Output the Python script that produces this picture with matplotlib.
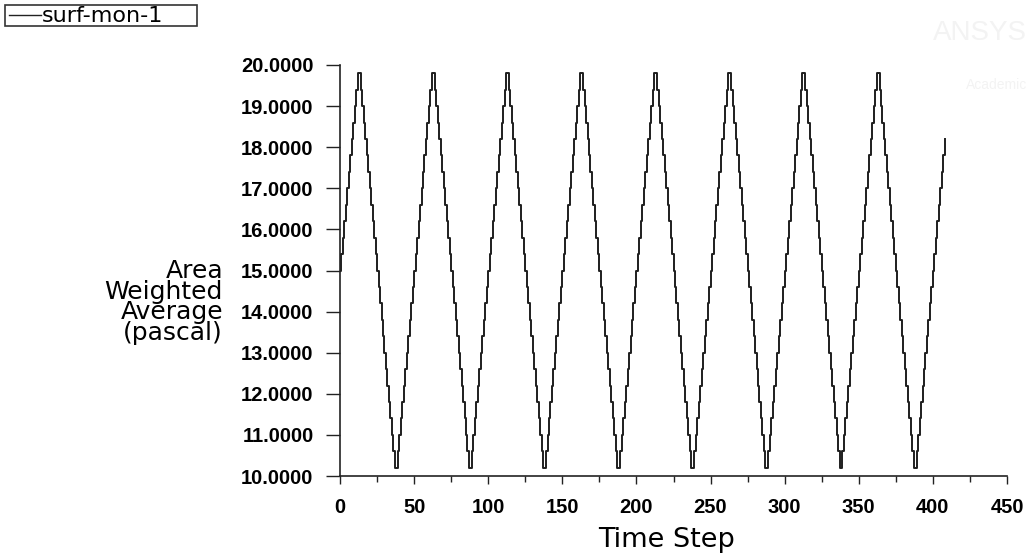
import matplotlib
matplotlib.use("Agg")
import matplotlib.pyplot as plt
from matplotlib.patches import Rectangle
from matplotlib.lines import Line2D

series_name = "surf-mon-1"
x_label = "Time Step"
y_label = "Area\nWeighted\nAverage\n(pascal)"

time_step = list(range(0, 409))
area_weighted_avg = [
    15.0, 15.4, 15.8, 16.2, 16.6, 17.0, 17.4, 17.8, 18.2, 18.6, 19.0, 19.4, 19.8, 19.8, 19.4, 19.0, 18.6, 18.2, 17.8, 17.4, 17.0, 16.6, 16.2, 15.8, 15.4,
    15.0, 14.6, 14.2, 13.8, 13.4, 13.0, 12.6, 12.2, 11.8, 11.4, 11.0, 10.6, 10.2, 10.2, 10.6, 11.0, 11.4, 11.8, 12.2, 12.6, 13.0, 13.4, 13.8, 14.2, 14.6,
    15.0, 15.4, 15.8, 16.2, 16.6, 17.0, 17.4, 17.8, 18.2, 18.6, 19.0, 19.4, 19.8, 19.8, 19.4, 19.0, 18.6, 18.2, 17.8, 17.4, 17.0, 16.6, 16.2, 15.8, 15.4,
    15.0, 14.6, 14.2, 13.8, 13.4, 13.0, 12.6, 12.2, 11.8, 11.4, 11.0, 10.6, 10.2, 10.2, 10.6, 11.0, 11.4, 11.8, 12.2, 12.6, 13.0, 13.4, 13.8, 14.2, 14.6,
    15.0, 15.4, 15.8, 16.2, 16.6, 17.0, 17.4, 17.8, 18.2, 18.6, 19.0, 19.4, 19.8, 19.8, 19.4, 19.0, 18.6, 18.2, 17.8, 17.4, 17.0, 16.6, 16.2, 15.8, 15.4,
    15.0, 14.6, 14.2, 13.8, 13.4, 13.0, 12.6, 12.2, 11.8, 11.4, 11.0, 10.6, 10.2, 10.2, 10.6, 11.0, 11.4, 11.8, 12.2, 12.6, 13.0, 13.4, 13.8, 14.2, 14.6,
    15.0, 15.4, 15.8, 16.2, 16.6, 17.0, 17.4, 17.8, 18.2, 18.6, 19.0, 19.4, 19.8, 19.8, 19.4, 19.0, 18.6, 18.2, 17.8, 17.4, 17.0, 16.6, 16.2, 15.8, 15.4,
    15.0, 14.6, 14.2, 13.8, 13.4, 13.0, 12.6, 12.2, 11.8, 11.4, 11.0, 10.6, 10.2, 10.2, 10.6, 11.0, 11.4, 11.8, 12.2, 12.6, 13.0, 13.4, 13.8, 14.2, 14.6,
    15.0, 15.4, 15.8, 16.2, 16.6, 17.0, 17.4, 17.8, 18.2, 18.6, 19.0, 19.4, 19.8, 19.8, 19.4, 19.0, 18.6, 18.2, 17.8, 17.4, 17.0, 16.6, 16.2, 15.8, 15.4,
    15.0, 14.6, 14.2, 13.8, 13.4, 13.0, 12.6, 12.2, 11.8, 11.4, 11.0, 10.6, 10.2, 10.2, 10.6, 11.0, 11.4, 11.8, 12.2, 12.6, 13.0, 13.4, 13.8, 14.2, 14.6,
    15.0, 15.4, 15.8, 16.2, 16.6, 17.0, 17.4, 17.8, 18.2, 18.6, 19.0, 19.4, 19.8, 19.8, 19.4, 19.0, 18.6, 18.2, 17.8, 17.4, 17.0, 16.6, 16.2, 15.8, 15.4,
    15.0, 14.6, 14.2, 13.8, 13.4, 13.0, 12.6, 12.2, 11.8, 11.4, 11.0, 10.6, 10.2, 10.2, 10.6, 11.0, 11.4, 11.8, 12.2, 12.6, 13.0, 13.4, 13.8, 14.2, 14.6,
    15.0, 15.4, 15.8, 16.2, 16.6, 17.0, 17.4, 17.8, 18.2, 18.6, 19.0, 19.4, 19.8, 19.8, 19.4, 19.0, 18.6, 18.2, 17.8, 17.4, 17.0, 16.6, 16.2, 15.8, 15.4,
    15.0, 14.6, 14.2, 13.8, 13.4, 13.0, 12.6, 12.2, 11.8, 11.4, 11.0, 10.6, 10.2, 10.2, 10.6, 11.0, 11.4, 11.8, 12.2, 12.6, 13.0, 13.4, 13.8, 14.2, 14.6,
    15.0, 15.4, 15.8, 16.2, 16.6, 17.0, 17.4, 17.8, 18.2, 18.6, 19.0, 19.4, 19.8, 19.8, 19.4, 19.0, 18.6, 18.2, 17.8, 17.4, 17.0, 16.6, 16.2, 15.8, 15.4,
    15.0, 14.6, 14.2, 13.8, 13.4, 13.0, 12.6, 12.2, 11.8, 11.4, 11.0, 10.6, 10.2, 10.2, 10.6, 11.0, 11.4, 11.8, 12.2, 12.6, 13.0, 13.4, 13.8, 14.2, 14.6,
    15.0, 15.4, 15.8, 16.2, 16.6, 17.0, 17.4, 17.8, 18.2,
]

x_ticks = [0, 50, 100, 150, 200, 250, 300, 350, 400, 450]
y_ticks = [10, 11, 12, 13, 14, 15, 16, 17, 18, 19, 20]

W, H = 1030, 557
fig = plt.figure(figsize=(W / 100, H / 100), dpi=100)
ax = fig.add_axes([340 / W, 1 - 476 / H, (1007 - 340) / W, (476 - 65) / H])

ax.plot(time_step, area_weighted_avg, drawstyle="steps-post", color="#1e1e1e", lw=1.4)

ax.set_xlim(0, 450)
ax.set_ylim(10, 20)
ax.set_xticks(x_ticks)
ax.set_xticks([25 + 50 * i for i in range(9)], minor=True)
ax.set_yticks(y_ticks)
ax.set_xticklabels([str(v) for v in x_ticks], fontfamily="Liberation Sans", fontweight="bold", fontsize=14.5)
ax.set_yticklabels([f"{v:.4f}" for v in y_ticks], fontfamily="Liberation Sans", fontweight="bold", fontsize=14.5)
for s in ("top", "right"):
    ax.spines[s].set_visible(False)
for s in ("left", "bottom"):
    ax.spines[s].set_color("#222222")
    ax.spines[s].set_linewidth(1.2)
ax.tick_params(axis="x", which="major", direction="out", length=6, width=1, pad=10, color="#222222")
ax.tick_params(axis="x", which="minor", direction="out", length=4, width=1, color="#222222")
ax.tick_params(axis="y", which="major", direction="out", length=10, width=1, pad=9, color="#222222")

fig.text(667 / W, 1 - 540 / H, x_label, ha="center", va="center", fontsize=19.5, fontfamily="DejaVu Sans")
fig.text(223 / W, 1 - 302 / H, y_label, ha="right", va="center", multialignment="right",
         fontsize=18, fontfamily="DejaVu Sans", linespacing=0.84)

# legend box
fig.patches.append(Rectangle((5 / W, 1 - 26 / H), 192 / W, 21 / H, transform=fig.transFigure,
                             facecolor="white", edgecolor="#333333", lw=1.2))
fig.lines.append(Line2D([9 / W, 41 / W], [1 - 15 / H, 1 - 15 / H], transform=fig.transFigure,
                        color="#222222", lw=1.0))
fig.text(42 / W, 1 - 15.5 / H, series_name, ha="left", va="center", fontsize=16, fontfamily="DejaVu Sans")

# faint watermark
fig.text(1027 / W, 1 - 33 / H, "ANSYS", ha="right", va="center", fontsize=20, color="#f3f3f3",
         fontfamily="Liberation Sans")
fig.text(1027 / W, 1 - 85 / H, "Academic", ha="right", va="center", fontsize=10, color="#f3f3f3",
         fontfamily="Liberation Sans")

fig.savefig("out.png", dpi=100, facecolor="white")
